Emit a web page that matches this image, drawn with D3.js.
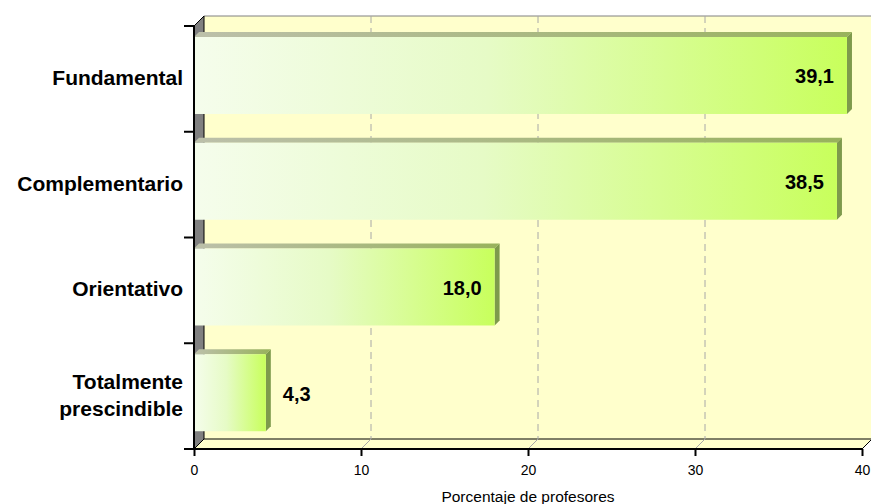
<!DOCTYPE html>
<html><head><meta charset="utf-8">
<script src="https://cdn.jsdelivr.net/npm/d3@7"></script>
<style>body{margin:0;background:#fff}svg{display:block;font-family:"Liberation Sans",Arial,sans-serif}</style>
</head><body>
<svg id="c" width="871" height="504"></svg>
<script>
const categories = ["Fundamental", "Complementario", "Orientativo", "Totalmente prescindible"];
const values = [39.1, 38.5, 18.0, 4.3];
const valueLabels = ["39,1", "38,5", "18,0", "4,3"];
const xTicks = [0, 10, 20, 30, 40];
const axisTitle = "Porcentaje de profesores";

const svg = d3.select("#c");
const x = d3.scaleLinear().domain([0, 40]).range([194, 862]);
const y = d3.scaleBand().domain(categories).range([26, 449]).padding(0);
const DX = 10, DY = -10;   // wall depth
const BD = 5;              // bar depth
const yTop = 26, yBot = 449;

const defs = svg.append("defs");

// back wall
svg.append("rect").attr("x", x(0) + DX).attr("y", yTop + DY)
  .attr("width", x(40) - x(0)).attr("height", yBot - yTop)
  .attr("fill", "#FFFFCC");
svg.append("line").attr("x1", x(0) + DX).attr("x2", x(40) + DX)
  .attr("y1", yTop + DY).attr("y2", yTop + DY).attr("stroke", "#808080").attr("stroke-width", 1);

// left wall
svg.append("polygon")
  .attr("points", [[x(0), yTop], [x(0) + DX, yTop + DY], [x(0) + DX, yBot + DY], [x(0), yBot]].join(" "))
  .attr("fill", "#808080").attr("stroke", "#000").attr("stroke-width", 1);

// floor
svg.append("polygon")
  .attr("points", [[x(0), yBot], [x(0) + DX, yBot + DY], [x(40) + DX, yBot + DY], [x(40), yBot]].join(" "))
  .attr("fill", "#FFFFCC").attr("stroke", "#000").attr("stroke-width", 1);

// gridlines
xTicks.filter(t => t > 0 && t < 40).forEach(t => {
  svg.append("line").attr("x1", x(t) + DX).attr("x2", x(t) + DX)
    .attr("y1", yTop + DY).attr("y2", yBot + DY)
    .attr("stroke", "#A8A8A8").attr("stroke-dasharray", "7,5").attr("stroke-width", 1);
  svg.append("line").attr("x1", x(t)).attr("x2", x(t) + DX)
    .attr("y1", yBot).attr("y2", yBot + DY)
    .attr("stroke", "#A8A8A8").attr("stroke-width", 1);
});

// gradients
const gFront = defs.append("linearGradient").attr("id", "gf");
[[0, "#F5FDEC"], [0.45, "#E6FBC6"], [1, "#C8FF5C"]].forEach(([o, c]) =>
  gFront.append("stop").attr("offset", o).attr("stop-color", c));
const gTop = defs.append("linearGradient").attr("id", "gt");
[[0, "#BCC0AA"], [1, "#98B25C"]].forEach(([o, c]) =>
  gTop.append("stop").attr("offset", o).attr("stop-color", c));

// bars
const bw = y.bandwidth();
const bars = svg.append("g");
categories.forEach((c, i) => {
  const x0 = x(0), x1 = x(values[i]);
  const by = y(c) + bw * 0.104, bh = bw * 0.728;
  bars.append("polygon")
    .attr("points", [[x0, by], [x0 + BD, by - BD], [x1 + BD, by - BD], [x1, by]].join(" "))
    .attr("fill", "url(#gt)");
  bars.append("polygon")
    .attr("points", [[x1, by], [x1 + BD, by - BD], [x1 + BD, by + bh - BD], [x1, by + bh]].join(" "))
    .attr("fill", "#7E9A4C");
  bars.append("rect").attr("x", x0).attr("y", by).attr("width", x1 - x0).attr("height", bh)
    .attr("fill", "url(#gf)");
  const inside = values[i] > 10;
  bars.append("text")
    .attr("x", inside ? x1 - 13 : x1 + 17)
    .attr("y", by + bh / 2 + 1)
    .attr("dy", "0.35em")
    .attr("text-anchor", inside ? "end" : "start")
    .attr("font-size", 20).attr("font-weight", "bold").attr("fill", "#000")
    .text(valueLabels[i]);
});

// axes lines
svg.append("line").attr("x1", x(0)).attr("x2", x(0)).attr("y1", yTop).attr("y2", yBot)
  .attr("stroke", "#000").attr("stroke-width", 2);
svg.append("line").attr("x1", x(0)).attr("x2", x(40)).attr("y1", yBot).attr("y2", yBot)
  .attr("stroke", "#000").attr("stroke-width", 2);

// left ticks
const yTickPos = categories.map(c => y(c)).concat([yBot]);
yTickPos.forEach(p => svg.append("line").attr("x1", x(0) - 10).attr("x2", x(0))
  .attr("y1", p).attr("y2", p).attr("stroke", "#000").attr("stroke-width", 2));

// category labels
categories.forEach((c, i) => {
  const cy = y(c) + bw * 0.104 + bw * 0.728 / 2;
  const words = c === "Totalmente prescindible" ? ["Totalmente", "prescindible"] : [c];
  const t = svg.append("text").attr("x", 183).attr("text-anchor", "end")
    .attr("font-size", 21).attr("font-weight", "bold").attr("fill", "#000");
  if (words.length === 1) {
    t.attr("y", cy + 2).attr("dy", "0.35em").text(c);
  } else {
    t.append("tspan").attr("x", 183).attr("y", cy - 13.5 + 2).attr("dy", "0.35em").text(words[0]);
    t.append("tspan").attr("x", 183).attr("y", cy + 13.5 + 2).attr("dy", "0.35em").text(words[1]);
  }
});

// bottom axis ticks and labels
const xa = svg.append("g").attr("transform", `translate(0,${yBot})`)
  .call(d3.axisBottom(x).tickValues(xTicks).tickSize(7).tickFormat(d3.format("d")));
xa.select(".domain").remove();
xa.selectAll(".tick line").attr("stroke", "#000").attr("stroke-width", 2);
xa.selectAll(".tick text").attr("font-size", 14).attr("font-family", "Liberation Sans, Arial, sans-serif")
  .attr("fill", "#000").attr("dy", 0).attr("y", 26);

svg.append("text").attr("x", 528).attr("y", 502).attr("text-anchor", "middle")
  .attr("font-size", 15.5).attr("fill", "#000").text(axisTitle);
</script>
</body></html>
